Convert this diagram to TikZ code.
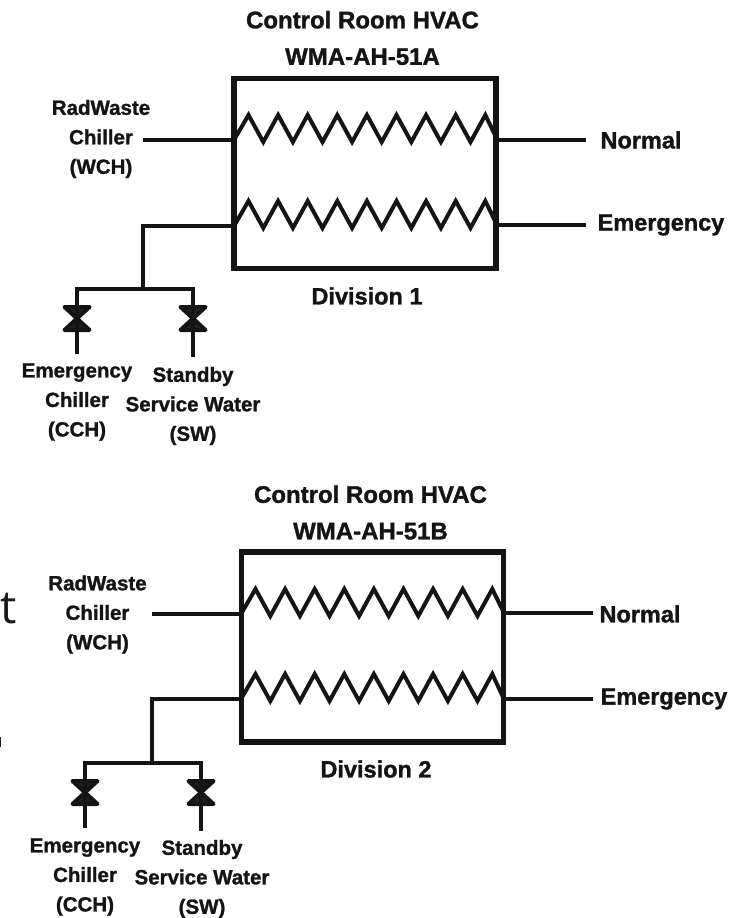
\documentclass[tikz,border=0pt]{standalone}
\usepackage{fontspec}
\setmainfont[BoldFeatures={FakeBold=1.3}]{Liberation Sans}
\newfontfamily\thinfont{Open Sans}
\tikzset{
  x=1pt,y=-1pt,
  pipe/.style={line width=4.6pt,black!92},
  wall/.style={draw=black!92,line width=5.5pt,minimum width=262pt,minimum height=190pt,inner sep=0pt},
  zig/.style={line width=4pt,black!92,line join=miter},
  hourglass/.style={draw=black!92,fill=black!88,line width=4pt,line join=round},
  lab/.style={font=\fontsize{20.5}{29.5}\selectfont\bfseries,align=center,inner sep=0pt,text=black!92},
  big/.style={lab,font=\fontsize{23.5}{29}\selectfont\bfseries},
  ttl/.style={font=\fontsize{24}{36.5}\selectfont\bfseries,align=center,inner sep=0pt,text=black!92},
}
\newcommand{\coilpath}[2]{% #1 start coordinate, #2 end coordinate
  \draw[zig] (#1) -- ++(14.5,-25) \foreach \k in {1,...,8}{ -- ++(14.8,27) -- ++(14.8,-27)} -- (#2);}
\newcommand{\valvemark}[2]{% #1 name, #2 centre
  \coordinate (#1) at (#2);
  \draw[hourglass] ([shift={(-12.5,-11.5)}]#1) -- ([shift={(12.5,-11.5)}]#1) -- ([shift={(-12.5,11.5)}]#1) -- ([shift={(12.5,11.5)}]#1) -- cycle;}
\begin{document}
\begin{tikzpicture}
\useasboundingbox (0,0) rectangle (742,918);
% ---------- Division 1
\node[wall] (boxA) at (365,173.5) {};
\node[ttl] (titleA) at (362.5,38) {Control Room HVAC\\WMA-AH-51A};
\node[lab] (wchA) at (101,139) {RadWaste\\Chiller\\(WCH)};
\node[big] (normA) at (641,140) {Normal};
\node[big] (emA) at (661,225) {Emergency};
\node[big] (divA) at (367,296) {Division 1};
\node[lab] (cchA) at (77,402) {Emergency\\Chiller\\(CCH)};
\node[lab] (swA) at (193,406) {Standby\\Service Water\\(SW)};
\coordinate (a1l) at (234,140); \coordinate (a1r) at (496,137);
\coordinate (a2l) at (234,226); \coordinate (a2r) at (496,223);
\coordinate (wa) at (143,140); \coordinate (na) at (586,140);
\coordinate (ea) at (586,225);
\coordinate (ja) at (143,226); \coordinate (ta) at (143,289);
\coordinate (va) at (77,289); \coordinate (vb) at (193,289);
\coilpath{a1l}{a1r}
\coilpath{a2l}{a2r}
\draw[pipe] (wa) -- (a1l);
\draw[pipe] (a1r |- na) -- (na);
\draw[pipe] (a2r |- ea) -- (ea);
\draw[pipe] (a2l) -- (ja) -- (ta);
\draw[pipe,line cap=rect] (va) -- (vb);
\valvemark{vA}{77,318.5}
\valvemark{vB}{193,318.5}
\coordinate (sa) at (77,354); \coordinate (sb) at (193,357);
\draw[pipe] (va) -- (vA) -- (sa);
\draw[pipe] (vb) -- (vB) -- (sb);
% ---------- Division 2
\node[wall] (boxB) at (372.5,647) {};
\node[ttl] (titleB) at (370.5,512.5) {Control Room HVAC\\WMA-AH-51B};
\node[lab] (wchB) at (97.5,614.5) {RadWaste\\Chiller\\(WCH)};
\node[big] (normB) at (640,614) {Normal};
\node[big] (emB) at (664,699) {Emergency};
\node[big] (divB) at (376,769) {Division 2};
\node[lab] (cchB) at (85,877) {Emergency\\Chiller\\(CCH)};
\node[lab] (swB) at (202,879) {Standby\\Service Water\\(SW)};
\coordinate (b1l) at (241,614); \coordinate (b1r) at (503,611);
\coordinate (b2l) at (241,699); \coordinate (b2r) at (503,697);
\coordinate (wb) at (152,614); \coordinate (nb) at (593,613);
\coordinate (eb) at (593,699);
\coordinate (jb) at (152,699); \coordinate (tb) at (152,763);
\coordinate (vc) at (85,763); \coordinate (vd) at (201,763);
\coilpath{b1l}{b1r}
\coilpath{b2l}{b2r}
\draw[pipe] (wb) -- (b1l);
\draw[pipe] (b1r |- nb) -- (nb);
\draw[pipe] (b2r |- eb) -- (eb);
\draw[pipe] (b2l) -- (jb) -- (tb);
\draw[pipe,line cap=rect] (vc) -- (vd);
\valvemark{vC}{85,792.5}
\valvemark{vD}{201,792.5}
\coordinate (sc) at (85,828); \coordinate (sd) at (201,831);
\draw[pipe] (vc) -- (vC) -- (sc);
\draw[pipe] (vd) -- (vD) -- (sd);
% ---------- stray remnants at the left edge
\node[inner sep=0pt,font=\fontsize{46}{46}\thinfont,text=black!90] (stray) at (9,609) {t};
\coordinate (m1) at (0,737); \coordinate (m2) at (0,747);
\draw[line width=2pt,black!90] (m1) -- (m2);
\end{tikzpicture}
\end{document}
